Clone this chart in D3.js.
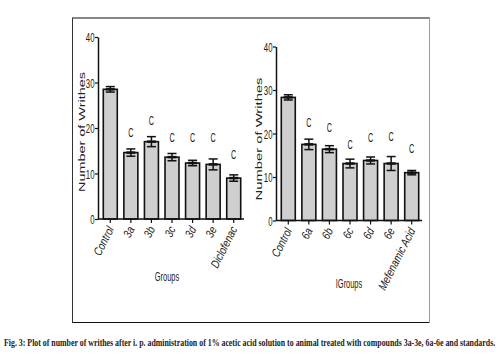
<!DOCTYPE html>
<html><head><meta charset="utf-8">
<script src="https://cdn.jsdelivr.net/npm/d3@7"></script>
<style>body{margin:0;background:#fff}</style></head>
<body><svg id="c" width="500" height="355"></svg>
<script>
const groupsA = ["Control","3a","3b","3c","3d","3e","Diclofenac"];
const meansA  = [28.5,14.6,17.0,13.6,12.3,12.0,9.0];
const errsA   = [0.6,0.8,1.1,0.8,0.6,1.2,0.7];
const sigA    = ["","C","C","C","C","C","C"];
const sigYA   = [0,18.9,21.5,17.8,17.8,17.8,14.1];

const groupsB = ["Control","6a","6b","6c","6d","6e","Mefenamic Acid"];
const meansB  = [28.3,17.5,16.4,13.1,13.8,13.1,11.0];
const errsB   = [0.6,1.2,0.8,1.0,0.8,1.6,0.5];
const sigB    = ["","C","C","C","C","C","C"];
const sigYB   = [0,22.5,21.3,17.4,18.9,19.3,16.4];

const yTicks = [0,10,20,30,40];
const yTitle = "Number of Writhes";
const caption = "Fig. 3: Plot of number of writhes after i. p. administration of 1% acetic acid solution to animal treated with compounds 3a-3e, 6a-6e and standards.";

const svg = d3.select("#c");
const SANS = "Arial,'Liberation Sans',sans-serif";

// frame
svg.append("line").attr("x1",72).attr("x2",430).attr("y1",18).attr("y2",18).attr("stroke","#111").attr("stroke-width",1.2);
svg.append("line").attr("x1",72).attr("x2",430).attr("y1",322.5).attr("y2",322.5).attr("stroke","#111").attr("stroke-width",1.2);
svg.append("line").attr("x1",72.5).attr("x2",72.5).attr("y1",18).attr("y2",323).attr("stroke","#333").attr("stroke-width",1);
svg.append("line").attr("x1",429.5).attr("x2",429.5).attr("y1",18).attr("y2",323).attr("stroke","#999").attr("stroke-width",1);

function panel(cfg, groups, means, errs, sig, sigY){
  const g = svg.append("g");
  const x = d3.scaleBand().domain(groups).range([cfg.x0,cfg.x1]).paddingInner(0.32).paddingOuter(0.16);
  const y = d3.scaleLinear().domain([0,40]).range([cfg.y0,cfg.y1]);
  const bw = x.bandwidth();

  g.selectAll("rect.bar").data(groups).join("rect")
    .attr("x",d=>x(d)).attr("width",bw)
    .attr("y",(d,i)=>y(means[i])).attr("height",(d,i)=>y(0)-y(means[i]))
    .attr("fill","#cfcfcf").attr("stroke","#111").attr("stroke-width",1.6);

  const cw = 4.5;
  groups.forEach((d,i)=>{
    const cx = x(d)+bw/2;
    const e = g.append("g").attr("stroke","#111").attr("stroke-width",1.5);
    e.append("line").attr("x1",cx).attr("x2",cx).attr("y1",y(means[i]+errs[i])).attr("y2",y(means[i]-errs[i]));
    e.append("line").attr("x1",cx-cw).attr("x2",cx+cw).attr("y1",y(means[i]+errs[i])).attr("y2",y(means[i]+errs[i]));
    e.append("line").attr("x1",cx-cw).attr("x2",cx+cw).attr("y1",y(means[i]-errs[i])).attr("y2",y(means[i]-errs[i]));
    e.append("line").attr("x1",cx-cw).attr("x2",cx+cw).attr("y1",y(means[i])).attr("y2",y(means[i])).attr("stroke-width",2.5);
    if(sig[i]){
      g.append("text").attr("transform",`translate(${cx},${y(sigY[i])}) scale(0.6,1)`)
        .attr("text-anchor","middle").attr("dy","0.35em")
        .attr("font-family",SANS).attr("font-size",12).attr("fill","#222").text(sig[i]);
    }
  });

  const ya = g.append("g").attr("transform",`translate(${cfg.axisX},0)`)
    .call(d3.axisLeft(y).tickValues(yTicks).tickSize(3).tickSizeOuter(0).tickFormat(d3.format("d")));
  ya.select(".domain").attr("stroke","#111").attr("stroke-width",1.5);
  ya.selectAll(".tick line").attr("stroke","#111").attr("stroke-width",1.2);
  ya.selectAll(".tick text").attr("x",0).attr("dy","0.35em")
    .attr("transform","translate(-3.5,0) scale(0.6,1)")
    .attr("font-family",SANS).attr("font-size",13).attr("fill","#222").attr("text-anchor","end");

  const xa = g.append("g").attr("transform",`translate(0,${cfg.y0})`)
    .call(d3.axisBottom(x).tickSize(4).tickSizeOuter(0));
  xa.select(".domain").remove();
  g.append("line").attr("x1",cfg.axisX).attr("x2",cfg.x1).attr("y1",cfg.y0).attr("y2",cfg.y0)
    .attr("stroke","#111").attr("stroke-width",1.5);
  xa.selectAll(".tick line").attr("stroke","#111").attr("stroke-width",1.2);
  xa.selectAll(".tick text").attr("y",0).attr("dy",0)
    .attr("transform","translate(4,10) rotate(-63) scale(0.8,1)")
    .attr("text-anchor","end")
    .attr("font-family",SANS).attr("font-style","italic").attr("font-size",12).attr("fill","#222");

  g.append("text").attr("transform",`translate(${cfg.titleX},${cfg.titleY}) rotate(-90)`)
    .attr("text-anchor","middle").attr("dy","0.35em")
    .attr("font-family",SANS).attr("font-size",9.5).attr("fill","#222")
    .attr("textLength",cfg.titleLen).attr("lengthAdjust","spacingAndGlyphs").text(yTitle);

  g.append("text").attr("transform",`translate(${cfg.xlabelX},${cfg.xlabelY}) scale(0.62,1)`)
    .attr("text-anchor","middle").attr("dy","0.35em")
    .attr("font-family",SANS).attr("font-size",12).attr("fill","#222").text(cfg.xlabel);
}

panel({x0:100,x1:244,y0:219,y1:37,axisX:98,titleX:82,titleY:132,titleLen:120,xlabel:"Groups",xlabelX:167,xlabelY:277},
  groupsA, meansA, errsA, sigA, sigYA);
panel({x0:278,x1:422,y0:220.5,y1:46.5,axisX:276,titleX:259,titleY:139,titleLen:123,xlabel:"IGroups",xlabelX:349,xlabelY:284},
  groupsB, meansB, errsB, sigB, sigYB);

const cap = svg.append("text").attr("font-family","'Liberation Serif','Times New Roman',serif")
  .attr("font-size",11).attr("font-weight","bold").attr("fill","#222").text(caption);
const natural = cap.node().getComputedTextLength();
cap.attr("transform",`translate(4,346) scale(${492/natural},1)`);
</script></body></html>
